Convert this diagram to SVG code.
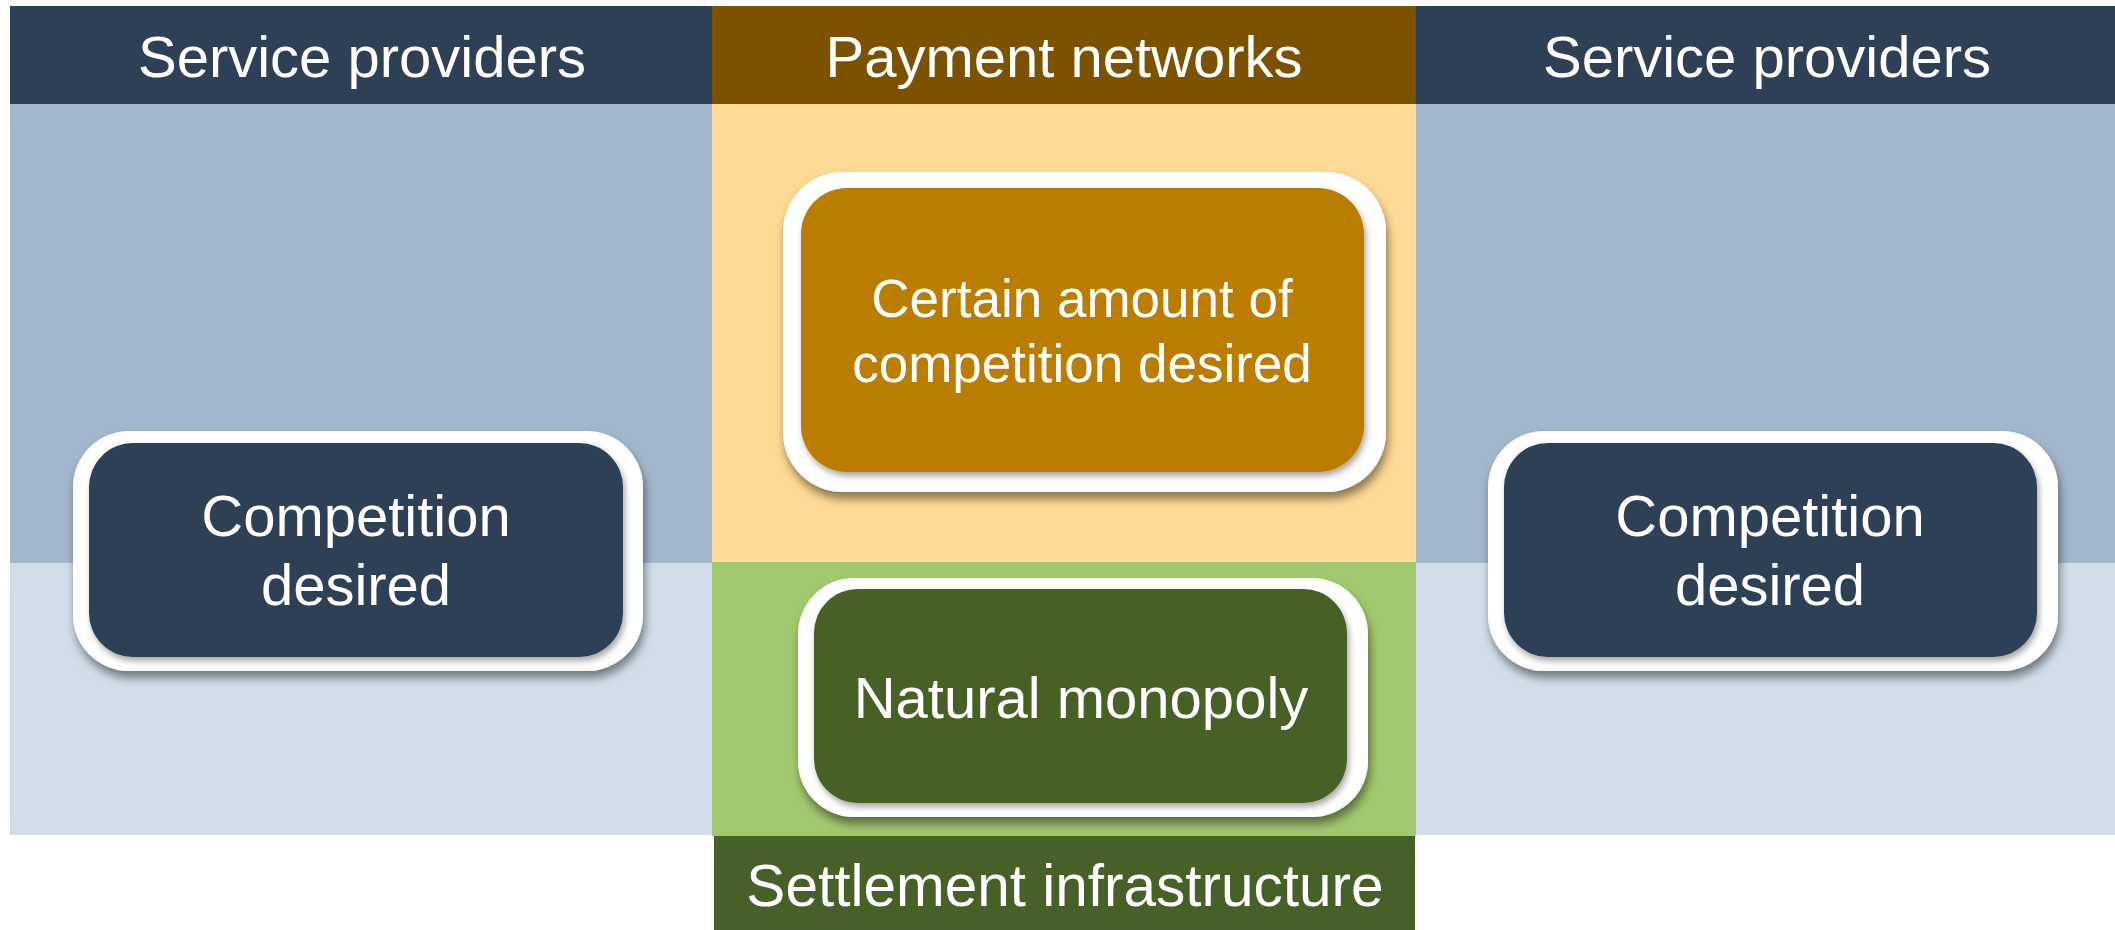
<svg xmlns="http://www.w3.org/2000/svg" width="2115" height="930" viewBox="0 0 2115 930">
<style>
.t{font-family:"Liberation Sans",Arial,sans-serif;font-size:58px;fill:#ffffff;text-anchor:middle}
.s{font-size:53px}
.frame{fill:#ffffff;filter:url(#sh)}
.inner{filter:url(#sh2)}
.navy{fill:#2E4055}
</style>
<defs>
<filter id="sh" x="-10%" y="-10%" width="120%" height="130%">
<feDropShadow dx="2" dy="7" stdDeviation="5" flood-color="#000" flood-opacity="0.45"/>
</filter>
<filter id="sh2" x="-10%" y="-10%" width="120%" height="130%">
<feDropShadow dx="2" dy="4" stdDeviation="3" flood-color="#000" flood-opacity="0.35"/>
</filter>
</defs>
<rect width="2115" height="930" fill="#ffffff"/>
<g id="background">
<rect x="10" y="104" width="702" height="459" fill="#A2B6CC"/>
<rect x="1416" y="104" width="699" height="459" fill="#A2B6CC"/>
<rect x="10" y="563" width="702" height="272" fill="#D1DEE9"/>
<rect x="1416" y="563" width="699" height="272" fill="#D1DEE9"/>
<rect x="712" y="104" width="704" height="459" fill="#FFDA94"/>
<rect x="712" y="562" width="704" height="274" fill="#A2C96F"/>
</g>
<g id="header-left">
<rect x="10" y="6" width="702" height="98" class="navy"/>
<text class="t" x="362" y="77">Service providers</text>
</g>
<g id="header-middle">
<rect x="712" y="6" width="704" height="98" fill="#7A5200"/>
<text class="t" x="1064" y="77">Payment networks</text>
</g>
<g id="header-right">
<rect x="1416" y="6" width="699" height="98" class="navy"/>
<text class="t" x="1767" y="77">Service providers</text>
</g>
<g id="footer-settlement">
<rect x="714" y="836" width="701" height="94" fill="#466128"/>
<text class="t" x="1065" y="906" style="font-size:58.5px">Settlement infrastructure</text>
</g>
<g id="node-left">
<rect class="frame" x="73" y="431" width="570" height="240" rx="56"/>
<rect class="inner navy" x="89" y="443" width="534" height="214" rx="44"/>
<text class="t" x="356" y="536">Competition</text>
<text class="t" x="356" y="605">desired</text>
</g>
<g id="node-right">
<rect class="frame" x="1488" y="431" width="570" height="240" rx="56"/>
<rect class="inner navy" x="1504" y="443" width="533" height="214" rx="44"/>
<text class="t" x="1770" y="536">Competition</text>
<text class="t" x="1770" y="605">desired</text>
</g>
<g id="node-payment">
<rect class="frame" x="783" y="172" width="603" height="320" rx="60"/>
<rect class="inner" x="801" y="188" width="563" height="284" rx="46" fill="#BA7D00"/>
<text class="t s" x="1082" y="317">Certain amount of</text>
<text class="t s" x="1082" y="382">competition desired</text>
</g>
<g id="node-settlement">
<rect class="frame" x="798" y="578" width="570" height="239" rx="56"/>
<rect class="inner" x="814" y="589" width="533" height="214" rx="44" fill="#466128"/>
<text class="t" x="1081" y="718">Natural monopoly</text>
</g>
<g id="connectors"/>
</svg>
